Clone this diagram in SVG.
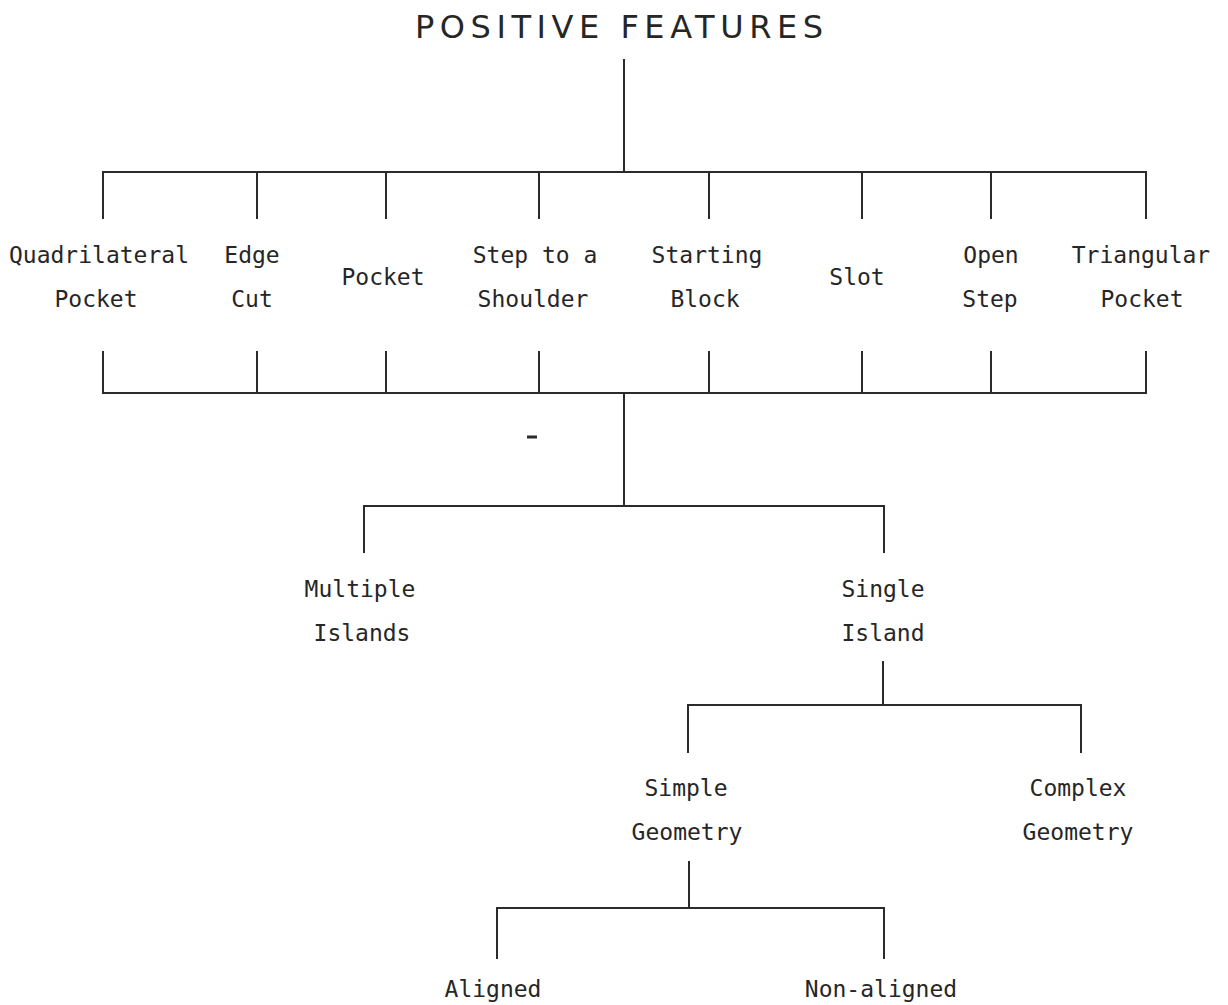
<svg xmlns="http://www.w3.org/2000/svg" width="1228" height="1005" viewBox="0 0 1228 1005">
<style>
.bg{fill:#ffffff}
.ln{stroke:#2b2b2b;stroke-width:2;fill:none;stroke-linecap:square}
.lb{font-family:"DejaVu Sans Mono","Liberation Mono",monospace;font-size:23px;fill:#262626;text-anchor:middle}
.tt{font-family:"DejaVu Sans","Liberation Sans",sans-serif;font-size:32px;fill:#262626;text-anchor:middle}
</style>
<rect class="bg" x="0" y="0" width="1228" height="1005"/>
<g id="title">
<text class="tt" x="619" y="38" textLength="408" lengthAdjust="spacing">POSITIVE FEATURES</text>
</g>
<g id="connectors">
<path class="ln" d="M624 60V172M103 172H1146"/>
<path class="ln" d="M103 172V218M257 172V218M386 172V218M539 172V218M709 172V218M862 172V218M991 172V218M1146 172V218"/>
<path class="ln" d="M103 352V393M257 352V393M386 352V393M539 352V393M709 352V393M862 352V393M991 352V393M1146 352V393"/>
<path class="ln" d="M103 393H1146M624 393V506M364 506H884M364 506V552M884 506V552"/>
<path class="ln" d="M883 662V705M688 705H1081M688 705V752M1081 705V752"/>
<path class="ln" d="M689 862V908M497 908H884M497 908V958M884 908V958"/>
<path d="M527 437H537" stroke="#2b2b2b" stroke-width="3"/>
</g>
<g id="quadrilateral-pocket"><text class="lb" x="99" y="263">Quadrilateral</text><text class="lb" x="96" y="307">Pocket</text></g>
<g id="edge-cut"><text class="lb" x="252" y="263">Edge</text><text class="lb" x="252" y="307">Cut</text></g>
<g id="pocket"><text class="lb" x="383" y="285">Pocket</text></g>
<g id="step-to-a-shoulder"><text class="lb" x="535" y="263">Step to a</text><text class="lb" x="533" y="307">Shoulder</text></g>
<g id="starting-block"><text class="lb" x="707" y="263">Starting</text><text class="lb" x="705" y="307">Block</text></g>
<g id="slot"><text class="lb" x="857" y="285">Slot</text></g>
<g id="open-step"><text class="lb" x="991" y="263">Open</text><text class="lb" x="990" y="307">Step</text></g>
<g id="triangular-pocket"><text class="lb" x="1141" y="263">Triangular</text><text class="lb" x="1142" y="307">Pocket</text></g>
<g id="multiple-islands"><text class="lb" x="360" y="597">Multiple</text><text class="lb" x="362" y="641">Islands</text></g>
<g id="single-island"><text class="lb" x="883" y="597">Single</text><text class="lb" x="883" y="641">Island</text></g>
<g id="simple-geometry"><text class="lb" x="686" y="796">Simple</text><text class="lb" x="687" y="840">Geometry</text></g>
<g id="complex-geometry"><text class="lb" x="1078" y="796">Complex</text><text class="lb" x="1078" y="840">Geometry</text></g>
<g id="aligned"><text class="lb" x="493" y="997">Aligned</text></g>
<g id="non-aligned"><text class="lb" x="881" y="997">Non-aligned</text></g>
</svg>
